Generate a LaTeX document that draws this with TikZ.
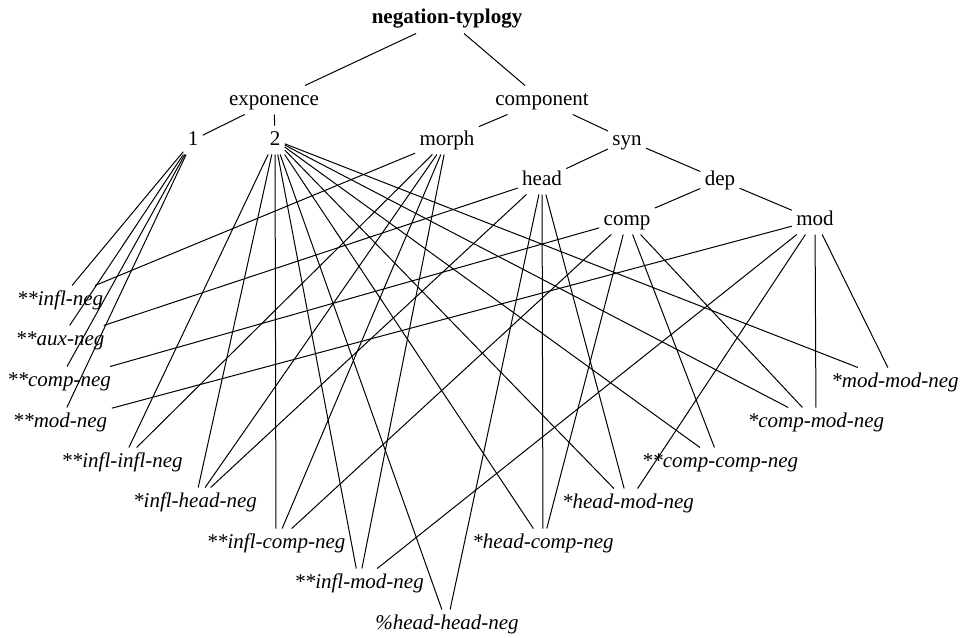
\documentclass[tikz,border=0pt]{standalone}
\usepackage{fontspec}
\setmainfont{Liberation Serif}
\begin{document}
\begin{tikzpicture}
[
    x = 0.5pt, y = -0.5pt,
    every node/.style = {inner sep = 2pt, text height = 7.5pt, text depth = 2.5pt,
        font = \fontsize{10.5}{12}\selectfont},
    leaf/.style = {font = \fontsize{10.5}{12}\selectfont\itshape},
    every path/.style = {line width = 0.5pt}
]
\useasboundingbox (0,0) rectangle (961,637);

\node (negtyp) at (447,19) {\textbf{negation-typlogy}};
\node (expo)   at (274,100) {exponence};
\node (compnt) at (542,100) {component};
\node (one)    at (193,140) {1};
\node (two)    at (275,140) {2};
\node (morph)  at (447,140) {morph};
\node (syn)    at (627,140) {syn};
\node (head)   at (542,180) {head};
\node (dep)    at (720,180) {dep};
\node (comp)   at (627,220) {comp};
\node (mod)    at (815,220) {mod};

\node[leaf] (inflneg)  at (60,300)  {**infl-neg};
\node[leaf] (auxneg)   at (60,340)  {**aux-neg};
\node[leaf] (compneg)  at (59,381)  {**comp-neg};
\node[leaf] (modneg)   at (60,422)  {**mod-neg};
\node[leaf] (inflinfl) at (122,462) {**infl-infl-neg};
\node[leaf] (inflhead) at (195,502) {*infl-head-neg};
\node[leaf] (inflcomp) at (276,543) {**infl-comp-neg};
\node[leaf] (inflmod)  at (359,583) {**infl-mod-neg};
\node[leaf] (headhead) at (447,624) {\%head-head-neg};
\node[leaf] (headcomp) at (543,543) {*head-comp-neg};
\node[leaf] (headmod)  at (628,503) {*head-mod-neg};
\node[leaf] (compcomp) at (720,462) {**comp-comp-neg};
\node[leaf] (compmod)  at (816,422) {*comp-mod-neg};
\node[leaf] (modmod)   at (895,382) {*mod-mod-neg};

\foreach \a/\b in {negtyp/expo, negtyp/compnt, expo/one, expo/two,
    compnt/morph, compnt/syn, syn/head, syn/dep, dep/comp, dep/mod}
    \draw (\a) -- (\b);
\foreach \b in {inflneg, auxneg, compneg, modneg}
    \draw (one) -- (\b);
\foreach \b in {inflinfl, inflhead, inflcomp, inflmod, headhead,
    headcomp, headmod, compcomp, compmod, modmod}
    \draw (two) -- (\b);
\foreach \b in {inflneg, inflinfl, inflhead, inflcomp, inflmod}
    \draw (morph) -- (\b);
\foreach \b in {auxneg, inflhead, headhead, headcomp, headmod}
    \draw (head) -- (\b);
\foreach \b in {compneg, inflcomp, headcomp, compcomp, compmod}
    \draw (comp) -- (\b);
\foreach \b in {modneg, inflmod, headmod, compmod, modmod}
    \draw (mod) -- (\b);
\end{tikzpicture}
\end{document}
